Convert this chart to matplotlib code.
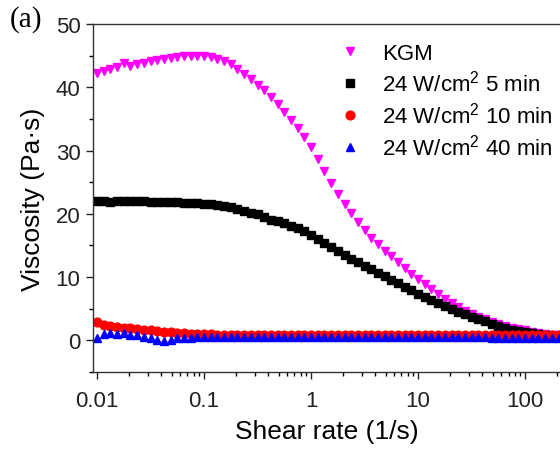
import matplotlib
matplotlib.use("Agg")
import matplotlib.pyplot as plt
from matplotlib.ticker import LogLocator, MultipleLocator, FixedLocator, FixedFormatter, NullFormatter

plt.rcParams['font.family'] = ['Liberation Sans', 'DejaVu Sans']
plt.rcParams['mathtext.fontset'] = 'custom'
plt.rcParams['mathtext.rm'] = 'Liberation Sans'
plt.rcParams['mathtext.it'] = 'Liberation Sans:italic'

# shear rate (1/s)
shear_rate = [
    0.01, 0.01155, 0.01334, 0.0154, 0.01778, 0.02054, 0.02371, 0.02738,
    0.03162, 0.03652, 0.04217, 0.0487, 0.05623, 0.06494, 0.07499, 0.0866,
    0.1, 0.1155, 0.1334, 0.154, 0.1778, 0.2054, 0.2371, 0.2738,
    0.3162, 0.3652, 0.4217, 0.487, 0.5623, 0.6494, 0.7499, 0.866,
    1.0, 1.155, 1.334, 1.54, 1.778, 2.054, 2.371, 2.738,
    3.162, 3.652, 4.217, 4.87, 5.623, 6.494, 7.499, 8.66,
    10.0, 11.55, 13.34, 15.4, 17.78, 20.54, 23.71, 27.38,
    31.62, 36.52, 42.17, 48.7, 56.23, 64.94, 74.99, 86.6,
    100.0, 115.5, 133.4, 154.0, 177.8, 205.4,
]

kgm = [
    42.3, 42.6, 42.9, 43.2, 43.8, 43.4, 43.6, 43.9,
    44.1, 44.3, 44.4, 44.6, 44.8, 44.9, 45.0, 45.0,
    44.9, 44.8, 44.5, 44.1, 43.6, 42.9, 42.1, 41.3,
    40.4, 39.5, 38.4, 37.3, 36.1, 34.8, 33.5, 32.2,
    30.5, 28.7, 26.8, 24.9, 23.2, 21.6, 20.1, 18.7,
    17.4, 16.2, 15.2, 14.2, 13.3, 12.4, 11.4, 10.5,
    9.7, 8.9, 8.1, 7.3, 6.6, 5.9, 5.3, 4.7,
    4.2, 3.7, 3.3, 2.9, 2.6, 2.3, 2.0, 1.8,
    1.6, 1.4, 1.2, 1.05, 0.9, 0.8,
]

w5min = [
    22.0, 22.0, 21.9, 22.0, 22.0, 22.1, 22.0, 22.0,
    21.9, 21.9, 21.8, 21.8, 21.8, 21.7, 21.7, 21.7,
    21.6, 21.5, 21.4, 21.2, 21.0, 20.8, 20.5, 20.2,
    19.9, 19.5, 19.1, 18.8, 18.5, 18.1, 17.7, 17.3,
    16.7, 16.0, 15.4, 14.8, 14.1, 13.5, 12.9, 12.4,
    11.8, 11.2, 10.6, 10.1, 9.5, 9.0, 8.5, 7.9,
    7.4, 6.9, 6.4, 5.9, 5.4, 5.0, 4.5, 4.1,
    3.7, 3.3, 3.0, 2.6, 2.3, 2.0, 1.7, 1.5,
    1.3, 1.1, 0.95, 0.85, 0.75, 0.7,
]

w10min = [
    2.9, 2.5, 2.3, 2.1, 2.0, 1.9, 1.8, 1.7,
    1.6, 1.5, 1.4, 1.3, 1.2, 1.1, 1.05, 1.0,
    0.95, 0.95, 0.9, 0.9, 0.9, 0.9, 0.9, 0.9,
    0.9, 0.9, 0.9, 0.9, 0.9, 0.9, 0.9, 0.9,
    0.9, 0.9, 0.9, 0.9, 0.9, 0.9, 0.9, 0.9,
    0.9, 0.9, 0.9, 0.9, 0.9, 0.9, 0.9, 0.9,
    0.9, 0.9, 0.9, 0.9, 0.9, 0.9, 0.9, 0.9,
    0.9, 0.9, 0.9, 0.85, 0.85, 0.85, 0.85, 0.85,
    0.85, 0.85, 0.85, 0.85, 0.85, 0.85,
]

w40min = [
    0.3, 1.0, 1.1, 1.0, 1.1, 0.9, 0.8, 0.6,
    0.3, 0.0, -0.1, 0.0, 0.3, 0.4, 0.45, 0.5,
    0.5, 0.5, 0.5, 0.5, 0.5, 0.5, 0.5, 0.5,
    0.5, 0.5, 0.5, 0.5, 0.5, 0.5, 0.5, 0.5,
    0.5, 0.5, 0.5, 0.5, 0.5, 0.5, 0.5, 0.5,
    0.5, 0.5, 0.5, 0.5, 0.5, 0.5, 0.5, 0.5,
    0.5, 0.5, 0.5, 0.5, 0.5, 0.5, 0.5, 0.5,
    0.5, 0.5, 0.5, 0.45, 0.45, 0.45, 0.45, 0.45,
    0.45, 0.45, 0.45, 0.45, 0.45, 0.45,
]

labels = ['KGM', '24 W/cm$^2$ 5 min', '24 W/cm$^2$ 10 min', '24 W/cm$^2$ 40 min']
x_ticks = [0.01, 0.1, 1, 10, 100]
x_tick_labels = ['0.01', '0.1', '1', '10', '100']
y_ticks = [0, 10, 20, 30, 40, 50]

fig = plt.figure(figsize=(5.6, 4.52), dpi=100)
ax = fig.add_axes([93 / 560, 79 / 452, 1 - 93 / 560, 348 / 452])

ms = 6.3
ax.plot(shear_rate, kgm, linestyle='none', marker='v', color='#FF00FF', ms=ms, label=labels[0])
ax.plot(shear_rate, w5min, linestyle='none', marker='s', color='black', ms=ms - 0.6, label=labels[1])
ax.plot(shear_rate, w10min, linestyle='none', marker='o', color='#FF0000', ms=ms, label=labels[2])
ax.plot(shear_rate, w40min, linestyle='none', marker='^', color='#0000FF', ms=ms, label=labels[3])

ax.set_xscale('log')
ax.set_xlim(0.00917, 212)
ax.set_ylim(-5, 50)
ax.xaxis.set_major_locator(FixedLocator(x_ticks))
ax.xaxis.set_major_formatter(FixedFormatter(x_tick_labels))
ax.xaxis.set_minor_locator(LogLocator(base=10, subs=range(2, 10)))
ax.xaxis.set_minor_formatter(NullFormatter())
ax.yaxis.set_major_locator(FixedLocator(y_ticks))
ax.yaxis.set_minor_locator(MultipleLocator(5))

for s in ['left', 'bottom', 'top']:
    ax.spines[s].set_linewidth(1.0)
    ax.spines[s].set_color('#333333')
ax.spines['right'].set_visible(False)
ax.tick_params(which='major', direction='out', length=5, width=1.0, labelsize=16, colors='#222222')
ax.tick_params(which='minor', direction='out', length=3, width=1.0)
ax.tick_params(axis='x', which='major', pad=8)
ax.tick_params(axis='y', which='major', pad=4)
ax.tick_params(top=False, which='both')

ax.set_xlabel('Shear rate (1/s)', fontsize=19, labelpad=6)
ax.set_ylabel('Viscosity (Pa·s)', fontsize=19, labelpad=8)

leg = ax.legend(loc='upper left', bbox_to_anchor=(328 / 560, 1 - 44 / 452),
                bbox_transform=fig.transFigure, frameon=False, fontsize=16,
                numpoints=1, handlelength=2.0, handletextpad=0.45, labelspacing=0.27,
                borderaxespad=0, borderpad=0)

fig.text(10 / 560, 1 - 20 / 452, '(a)', fontsize=21, family=['Liberation Serif', 'DejaVu Serif'],
         ha='left', va='center')

fig.savefig('out.png', dpi=100)
